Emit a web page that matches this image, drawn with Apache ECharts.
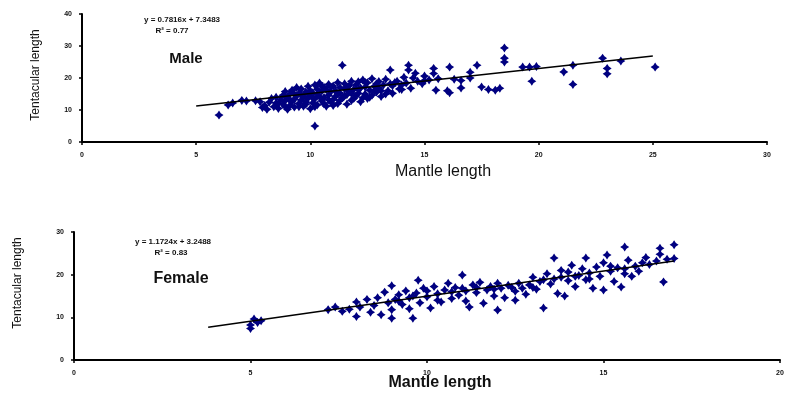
<!DOCTYPE html>
<html>
<head>
<meta charset="utf-8">
<script src="https://cdn.jsdelivr.net/npm/echarts@6/dist/echarts.min.js"></script>
<style>
  html, body { margin: 0; padding: 0; background: #fff; }
  #chart { width: 787px; height: 397px; }
</style>
</head>
<body>
<div id="chart"></div>
<script>
// mantle length vs tentacular length
var maleData = [
  [6.0, 8.4], [6.4, 11.6], [6.6, 12.2], [7.0, 13.0], [7.2, 12.8], [7.6, 12.9], [7.8, 12.6],
  [7.9, 10.8], [8.0, 11.4], [8.1, 10.2], [8.2, 12.4], [8.3, 13.6], [8.4, 11.0], [8.5, 14.0],
  [8.5, 12.2], [8.6, 10.5], [8.7, 13.2], [8.8, 14.6], [8.8, 11.8], [8.9, 15.8], [8.9, 12.9],
  [9.0, 10.2], [9.0, 13.8], [9.1, 14.9], [9.1, 11.4], [9.2, 12.6], [9.2, 16.2], [9.3, 13.4],
  [9.3, 10.9], [9.4, 14.4], [9.4, 17.0], [9.5, 12.0], [9.5, 15.2], [9.6, 13.1], [9.6, 16.6],
  [9.7, 11.2], [9.7, 14.1], [9.8, 15.6], [9.8, 12.5], [9.9, 17.4], [9.9, 13.7], [10.0, 10.4],
  [10.0, 14.8], [10.0, 16.0], [10.1, 12.2], [10.1, 15.4], [10.2, 5.0], [10.2, 17.8], [10.2, 13.5],
  [10.3, 11.6], [10.3, 16.5], [10.4, 14.2], [10.4, 18.4], [10.5, 12.8], [10.5, 15.9], [10.6, 13.9],
  [10.6, 17.1], [10.7, 11.2], [10.7, 16.3], [10.8, 14.6], [10.8, 18.0], [10.9, 12.4], [10.9, 15.7],
  [11.0, 13.3], [11.0, 17.5], [11.1, 16.0], [11.1, 14.2], [11.2, 18.6], [11.2, 12.0], [11.3, 15.3],
  [11.3, 17.0], [11.4, 24.0], [11.4, 13.8], [11.5, 16.6], [11.5, 18.2], [11.6, 14.8], [11.6, 11.8],
  [11.7, 17.6], [11.7, 15.8], [11.8, 13.0], [11.8, 19.0], [11.9, 16.4], [12.0, 14.4], [12.0, 17.9],
  [12.1, 15.2], [12.1, 18.8], [12.2, 12.6], [12.2, 16.9], [12.3, 19.4], [12.4, 15.0], [12.4, 17.2],
  [12.5, 13.6], [12.5, 18.5], [12.6, 16.2], [12.7, 19.8], [12.7, 14.6], [12.8, 17.4], [12.9, 15.6],
  [13.0, 18.9], [13.0, 16.8], [13.1, 14.2], [13.2, 17.8], [13.3, 19.6], [13.4, 16.0], [13.5, 22.5],
  [13.5, 18.2], [13.6, 15.2], [13.8, 19.0], [13.9, 16.6], [14.0, 17.8], [14.1, 20.2], [14.2, 18.4],
  [14.3, 24.0], [14.3, 22.5], [14.4, 16.8], [14.6, 21.5], [14.7, 19.0], [14.9, 18.2], [15.0, 20.6],
  [15.2, 19.4], [15.4, 23.0], [15.4, 21.4], [15.5, 16.2], [15.6, 19.8], [16.0, 16.0], [16.1, 23.4],
  [16.1, 15.4], [16.3, 19.6], [16.6, 16.9], [16.6, 19.2], [17.0, 21.8], [17.0, 20.0], [17.3, 24.0],
  [17.5, 17.2], [17.8, 16.4], [18.1, 16.2], [18.3, 16.8], [18.5, 29.4], [18.5, 26.2], [18.5, 25.0],
  [19.3, 23.4], [19.6, 23.4], [19.7, 19.0], [19.9, 23.6], [21.1, 21.9], [21.5, 24.0], [21.5, 18.0],
  [22.8, 26.2], [23.0, 23.0], [23.0, 21.3], [23.6, 25.3], [25.1, 23.4],
  [8.6, 12.0], [8.9, 11.0], [9.1, 13.0], [9.3, 15.0], [9.5, 11.0], [9.6, 14.6], [9.8, 11.8],
  [9.9, 15.0], [10.1, 13.8], [10.2, 11.0], [10.3, 14.9], [10.5, 17.4], [10.6, 11.9], [10.8, 13.2],
  [10.9, 17.2], [11.0, 11.4], [11.2, 15.0], [11.3, 13.0], [11.5, 14.4], [11.6, 17.0], [11.8, 15.2],
  [11.9, 13.6], [12.1, 16.4], [12.3, 13.8], [12.4, 18.6], [12.6, 14.0], [12.8, 16.0], [12.9, 18.2],
  [13.1, 16.0], [13.3, 15.0], [13.6, 17.6], [13.7, 18.6], [14.0, 16.4], [14.5, 20.0], [15.0, 19.2]
]

var femaleData = [
  [5.0, 8.2], [5.1, 9.6], [5.0, 7.4], [5.2, 8.8], [5.3, 9.2],
  [7.2, 11.8], [7.4, 12.4], [7.6, 11.4], [7.8, 11.9],
  [8.0, 13.6], [8.0, 10.2], [8.1, 12.4], [8.3, 14.2], [8.4, 11.2], [8.5, 12.8], [8.6, 14.6],
  [8.7, 10.6], [8.8, 15.9], [8.9, 13.4], [9.0, 17.4], [9.0, 9.8], [9.0, 11.8], [9.1, 14.2],
  [9.2, 15.3], [9.3, 13.0], [9.4, 16.2], [9.5, 12.0], [9.5, 14.6], [9.6, 9.8], [9.7, 15.7],
  [9.75, 18.7], [9.8, 13.4], [9.9, 16.8], [10.0, 14.8], [10.1, 12.2], [10.2, 17.2], [10.3, 15.5],
  [10.4, 13.6], [10.5, 16.4], [10.6, 18.0], [10.7, 14.4], [10.8, 17.0], [10.9, 15.2], [11.0, 19.9],
  [11.0, 16.8], [11.1, 13.8], [11.2, 12.4], [11.3, 17.6], [11.4, 15.8], [11.5, 18.2], [11.6, 13.3],
  [11.7, 16.4], [11.8, 17.2], [11.9, 15.0], [12.0, 11.7], [12.0, 18.0], [12.1, 16.8], [12.2, 14.6],
  [12.3, 17.5], [12.5, 14.0], [12.5, 16.1], [12.6, 18.0], [12.8, 15.4], [12.9, 17.6], [13.0, 19.4],
  [13.1, 16.6], [13.2, 18.4], [13.3, 12.2], [13.4, 20.2], [13.5, 17.8], [13.6, 23.9], [13.6, 19.0],
  [13.7, 15.6], [13.8, 21.0], [13.9, 15.0], [14.0, 18.6], [14.0, 20.6], [14.1, 22.2], [14.2, 17.2],
  [14.3, 19.8], [14.4, 21.4], [14.5, 23.9], [14.5, 18.8], [14.6, 20.4], [14.7, 16.8], [14.8, 21.8],
  [14.9, 19.6], [15.0, 16.4], [15.0, 22.8], [15.1, 24.6], [15.2, 20.8], [15.3, 18.4], [15.4, 21.6],
  [15.5, 17.1], [15.6, 26.5], [15.6, 20.2], [15.7, 23.4], [15.8, 19.6], [15.9, 22.0], [16.0, 20.8],
  [16.2, 24.0], [16.3, 22.4], [16.5, 23.2], [16.6, 26.2], [16.6, 24.8], [16.7, 18.3], [16.8, 23.6],
  [17.0, 27.0], [17.0, 23.8],
  [9.2, 13.8], [9.6, 15.0], [10.0, 16.2], [10.3, 14.0], [10.7, 16.0], [11.1, 16.2], [11.4, 17.0],
  [11.9, 16.6], [12.4, 17.0], [12.7, 16.8], [13.0, 17.0], [13.3, 18.8], [13.8, 19.4], [14.2, 19.6],
  [14.6, 19.0], [15.2, 22.0], [15.6, 21.4], [16.1, 22.8]
]

// trend line end points (y = 0.7816x + 7.3483, y = 1.1724x + 3.2488)
var maleTrend = [[5.0, 11.26], [25.0, 26.89]]
var femaleTrend = [[3.8, 7.70], [17.0, 23.18]]

var maleXTicks = [0, 30, 5]
var maleYTicks = [0, 40, 10]
var femaleXTicks = [0, 20, 5]
var femaleYTicks = [0, 30, 10]

var chart = echarts.init(document.getElementById('chart'))
var font = 'Liberation Sans'
var marker = 'path://M5 0 L7 3 L10 5 L7 7 L5 10 L3 7 L0 5 L3 3 Z'

function valueAxis (idx, ticks) {
  return {
    type: 'value',
    gridIndex: idx,
    min: ticks[0],
    max: ticks[1],
    interval: ticks[2],
    splitLine: { show: false },
    axisLine: { show: true, onZero: false, lineStyle: { color: '#000', width: 2 } },
    axisTick: { show: true, length: 3, lineStyle: { color: '#000', width: 1.5 } },
    axisLabel: { fontSize: 7, fontWeight: 'bold', color: '#111', fontFamily: font, margin: 10 }
  }
}

function scatter (idx, data) {
  return {
    type: 'scatter',
    xAxisIndex: idx,
    yAxisIndex: idx,
    data: data,
    symbol: marker,
    symbolSize: 9,
    itemStyle: { color: '#000080', opacity: 1 },
    z: 2
  }
}

function trend (idx, data) {
  return {
    type: 'line',
    xAxisIndex: idx,
    yAxisIndex: idx,
    data: data,
    symbol: 'none',
    lineStyle: { color: '#000', width: 1.5 },
    z: 3
  }
}

function label (text, x, y, size, weight, rotate) {
  return {
    type: 'text',
    x: x,
    y: y,
    rotation: rotate || 0,
    style: {
      text: text,
      fontSize: size,
      fontWeight: weight,
      fontFamily: font,
      fill: '#111',
      align: 'center',
      verticalAlign: 'middle'
    }
  }
}

chart.setOption({
  backgroundColor: '#fff',
  animation: false,
  grid: [
    { left: 82, right: 20, top: 14, bottom: 255 },
    { left: 74, right: 7, top: 232, bottom: 37 }
  ],
  xAxis: [valueAxis(0, maleXTicks), valueAxis(1, femaleXTicks)],
  yAxis: [valueAxis(0, maleYTicks), valueAxis(1, femaleYTicks)],
  series: [
    scatter(0, maleData),
    trend(0, maleTrend),
    scatter(1, femaleData),
    trend(1, femaleTrend)
  ],
  graphic: [
    label('y = 0.7816x + 7.3483', 182, 20, 8, 'bold'),
    label('R² = 0.77', 172, 31, 8, 'bold'),
    label('Male', 186, 59, 15, 'bold'),
    label('Mantle length', 443, 172, 16, 'normal'),
    label('Tentacular length', 36, 75, 12, 'normal', Math.PI / 2),
    label('y = 1.1724x + 3.2488', 173, 242, 8, 'bold'),
    label('R² = 0.83', 171, 253, 8, 'bold'),
    label('Female', 181, 279, 16, 'bold'),
    label('Mantle length', 440, 383, 16, 'bold'),
    label('Tentacular length', 18, 283, 12, 'normal', Math.PI / 2)
  ]
})
</script>
</body>
</html>
